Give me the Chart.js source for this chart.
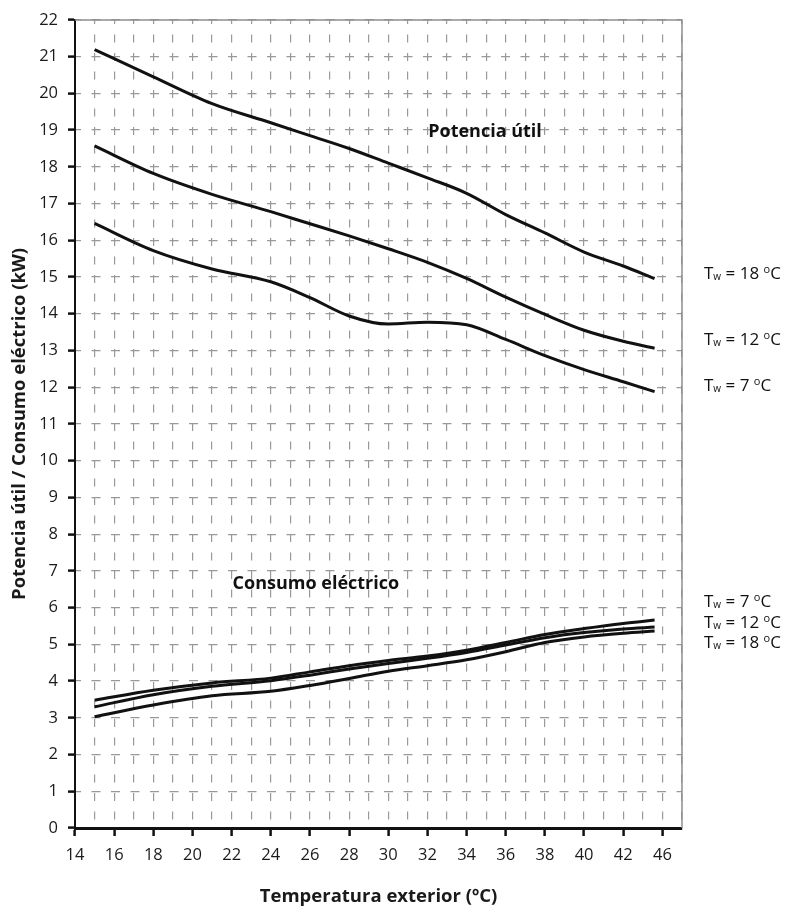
<!DOCTYPE html>
<html>
<head>
<meta charset="utf-8">
<script src="https://cdn.jsdelivr.net/npm/chart.js@4.4.1/dist/chart.umd.min.js"></script>
<style>
  html, body { margin: 0; padding: 0; background: #fff; }
  #wrap { width: 787px; height: 915px; position: relative; }
</style>
</head>
<body>
<div id="wrap"><canvas id="chart"></canvas></div>
<script>
// Temperatura exterior (ºC) where the curves were read
const tempX = [15, 18, 21, 24, 26, 28, 30, 32, 34, 36, 38, 40, 42, 43.6];

// Potencia útil (kW)
const potencia18 = [21.19, 20.45, 19.72, 19.2, 18.85, 18.5, 18.1, 17.7, 17.28, 16.7, 16.2, 15.68, 15.3, 14.96];
const potencia12 = [18.57, 17.82, 17.25, 16.78, 16.45, 16.12, 15.77, 15.4, 14.96, 14.45, 13.98, 13.55, 13.25, 13.06];
const potencia7 = [16.46, 15.72, 15.22, 14.87, 14.44, 13.94, 13.72, 13.77, 13.7, 13.3, 12.86, 12.48, 12.15, 11.88];

// Consumo eléctrico (kW)
const consumo7 = [3.48, 3.75, 3.95, 4.08, 4.25, 4.42, 4.56, 4.68, 4.84, 5.05, 5.27, 5.43, 5.57, 5.66];
const consumo12 = [3.30, 3.63, 3.86, 4.01, 4.16, 4.33, 4.48, 4.62, 4.78, 4.98, 5.18, 5.32, 5.42, 5.47];
const consumo18 = [3.03, 3.35, 3.6, 3.72, 3.88, 4.07, 4.27, 4.42, 4.58, 4.8, 5.05, 5.2, 5.3, 5.36];

// axis ticks
const xTickValues = [14, 15, 16, 17, 18, 19, 20, 21, 22, 23, 24, 25, 26, 27, 28, 29, 30, 31, 32, 33, 34, 35, 36, 37, 38, 39, 40, 41, 42, 43, 44, 45];
const xTickLabels = ['14', '16', '18', '20', '22', '24', '26', '28', '30', '32', '34', '36', '38', '40', '42', '46'];
const yTickValues = [0, 1, 2, 3, 4, 5, 6, 7, 8, 9, 10, 11, 12, 13, 14, 15, 16, 17, 18, 19, 20, 21, 22];

// labels at the right of the curves (Tw value, y position in kW)
const twLabels = ['18', '12', '7', '7', '12', '18'];
const twLabelY = [15.1, 13.3, 12.05, 6.17, 5.6, 5.06];

Chart.defaults.font.family = "'Open Sans', 'Noto Sans', sans-serif";
Chart.defaults.color = '#1a1a1a';

const toPoints = (vals) => tempX.map((x, i) => ({ x: x, y: vals[i] }));

const makeSet = (label, vals) => ({
  label: label,
  data: toPoints(vals),
  borderColor: '#111',
  borderWidth: 3,
  pointRadius: 0,
  fill: false,
  cubicInterpolationMode: 'monotone',
});

// solid grey frame on top and right, like the original
const framePlugin = {
  id: 'frame',
  beforeDatasetsDraw(chart) {
    const { ctx, chartArea: a } = chart;
    ctx.save();
    ctx.strokeStyle = '#8f8f8f';
    ctx.lineWidth = 1.5;
    ctx.beginPath();
    ctx.moveTo(a.left, a.top);
    ctx.lineTo(a.right, a.top);
    ctx.lineTo(a.right, a.bottom);
    ctx.stroke();
    ctx.restore();
  },
};

// curve names and Tw labels
const textPlugin = {
  id: 'texts',
  afterDatasetsDraw(chart) {
    const { ctx, chartArea: a, scales: { x, y } } = chart;
    ctx.save();
    ctx.fillStyle = '#111';
    ctx.textBaseline = 'middle';
    ctx.textAlign = 'center';
    ctx.font = "bold 18px 'Open Sans', sans-serif";
    ctx.fillText('Potencia útil', x.getPixelForValue(34.94), y.getPixelForValue(18.96));
    ctx.fillText('Consumo eléctrico', x.getPixelForValue(26.3), y.getPixelForValue(6.65));

    ctx.textAlign = 'left';
    ctx.textBaseline = 'alphabetic';
    twLabels.forEach((t, i) => {
      let px = a.right + 22;
      const py = y.getPixelForValue(twLabelY[i]) + 6;
      ctx.font = "17px 'Open Sans', sans-serif";
      ctx.fillText('T', px, py);
      px += ctx.measureText('T').width;
      ctx.font = "10px 'Open Sans', sans-serif";
      ctx.fillText('w', px, py + 1);
      px += ctx.measureText('w').width;
      ctx.font = "17px 'Open Sans', sans-serif";
      const mid = ' = ' + t + ' ';
      ctx.fillText(mid, px, py);
      px += ctx.measureText(mid).width;
      ctx.font = "11px 'Open Sans', sans-serif";
      ctx.fillText('o', px, py - 6);
      px += ctx.measureText('o').width;
      ctx.font = "17px 'Open Sans', sans-serif";
      ctx.fillText('C', px, py);
    });
    ctx.restore();
  },
};

new Chart(document.getElementById('chart'), {
  type: 'line',
  data: {
    datasets: [
      makeSet('Potencia útil Tw = 18 ºC', potencia18),
      makeSet('Potencia útil Tw = 12 ºC', potencia12),
      makeSet('Potencia útil Tw = 7 ºC', potencia7),
      makeSet('Consumo eléctrico Tw = 7 ºC', consumo7),
      makeSet('Consumo eléctrico Tw = 12 ºC', consumo12),
      makeSet('Consumo eléctrico Tw = 18 ºC', consumo18),
    ],
  },
  options: {
    responsive: true,
    maintainAspectRatio: false,
    animation: false,
    layout: { padding: { left: 0, top: 14, right: 105, bottom: 0 } },
    plugins: {
      legend: { display: false },
      tooltip: { enabled: false },
    },
    scales: {
      x: {
        type: 'linear',
        min: 14,
        max: 45,
        afterFit: (scale) => { scale.height = 87; },
        afterBuildTicks: (scale) => { scale.ticks = xTickValues.map((v) => ({ value: v })); },
        border: { color: '#111', width: 3, dash: [8, 10.5], dashOffset: 4 },
        grid: {
          color: '#999',
          lineWidth: 1.2,
          tickLength: 8,
          tickWidth: 2.5,
          tickColor: (c) => (c.tick && c.tick.value % 2 === 0 ? '#111' : 'rgba(0,0,0,0)'),
        },
        ticks: {
          autoSkip: false,
          maxRotation: 0,
          padding: 9,
          font: { size: 16.5 },
          callback: (v) => (v % 2 === 0 ? xTickLabels[(v - 14) / 2] : ''),
        },
        title: {
          display: true,
          text: 'Temperatura exterior (ºC)',
          font: { size: 18.5, weight: 'bold' },
          padding: { top: 0, bottom: 7 },
        },
      },
      y: {
        min: 0,
        max: 22,
        afterFit: (scale) => { scale.width = 75; },
        afterBuildTicks: (scale) => { scale.ticks = yTickValues.map((v) => ({ value: v })); },
        border: { color: '#111', width: 2, dash: [9, 10.5], dashOffset: 4 },
        grid: {
          color: '#999',
          lineWidth: 1.2,
          tickLength: 7,
          tickWidth: 2.5,
          tickColor: '#111',
        },
        ticks: {
          padding: 10,
          font: { size: 16.5 },
        },
        title: {
          display: true,
          text: 'Potencia útil / Consumo eléctrico (kW)',
          font: { size: 18.5, weight: 'bold' },
          padding: { top: 9, bottom: 0 },
        },
      },
    },
  },
  plugins: [framePlugin, textPlugin],
});
</script>
</body>
</html>
